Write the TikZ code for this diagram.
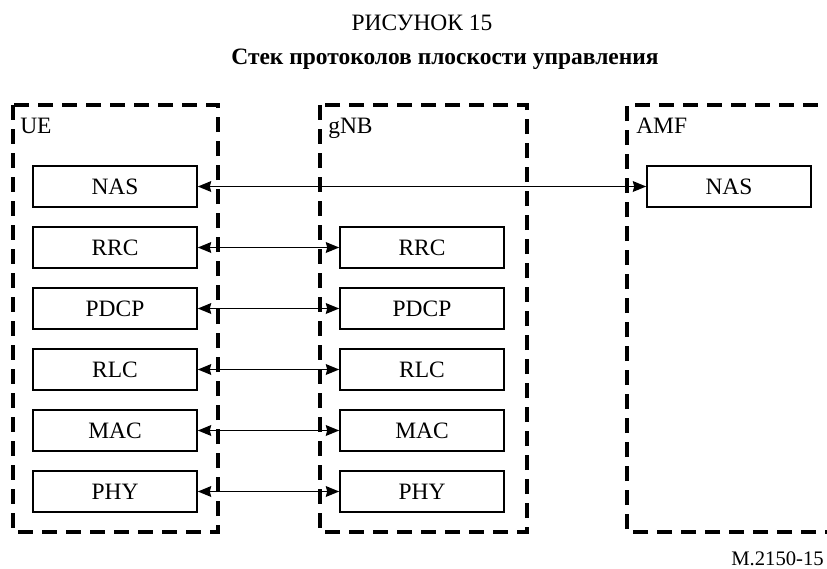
\documentclass[tikz,border=0pt]{standalone}
\usepackage{fontspec}
\setmainfont{Liberation Serif}
\usetikzlibrary{arrows.meta,positioning}

\begin{document}
\begin{tikzpicture}[x=0.75pt,y=-0.75pt,>={Stealth[length=10pt,width=8pt,inset=1pt]},
 every node/.style={font=\fontsize{17.6}{21}\selectfont,inner sep=0pt},
 layer/.style={draw,line width=1.2pt,minimum width=123pt,minimum height=30.75pt},
 link/.style={<->,line width=1.3pt},
 frame/.style={line width=3pt,dash pattern=on 11pt off 7pt}]
\useasboundingbox (0,0) rectangle (827,568);
\node[anchor=base] (fig) at (422,30) {РИСУНОК 15};
\node[anchor=base,font=\fontsize{17.6}{21}\selectfont\bfseries] (title) at (445,64) {Стек протоколов плоскости управления};
% entities
\draw[frame] (13,105) rectangle (218,532);
\draw[frame] (320,105) rectangle (527,532);
\draw[frame] (840,532) -- (627,532) -- (627,105) -- (840,105);
\node[anchor=base west] (ue) at (20,133) {UE};
\node[anchor=base west] (gnb) at (328,133) {gNB};
\node[anchor=base west] (amf) at (636,133) {AMF};
% layers
\node[layer] (ueNAS) at (115,186.5) {NAS};
\node[layer] (amfNAS) at (729,186.5) {NAS};
\draw[link] (ueNAS) -- (amfNAS);
\foreach \name [count=\i] in {RRC,PDCP,RLC,MAC,PHY}{
  \node[layer] (ue\name) at (115,186.5+61*\i) {\name};
  \node[layer] (gnb\name) at (422,186.5+61*\i) {\name};
  \draw[link] (ue\name) -- (gnb\name);
}
\node[anchor=base east,font=\fontsize{15.5}{18}\selectfont] (ref) at (824,565) {M.2150-15};
\end{tikzpicture}
\end{document}
